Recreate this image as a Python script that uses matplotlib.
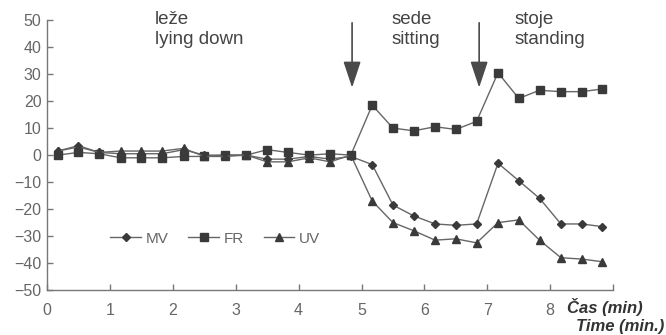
import matplotlib
matplotlib.use("Agg")
import matplotlib.pyplot as plt

plt.rcParams["font.family"] = ["Liberation Sans", "DejaVu Sans"]

# measurement times (min)
times = [0.17, 0.5, 0.83, 1.17, 1.5, 1.83, 2.17, 2.5, 2.83, 3.17, 3.5, 3.83, 4.17, 4.5,
         4.83, 5.17, 5.5, 5.83, 6.17, 6.5, 6.83, 7.17, 7.5, 7.83, 8.17, 8.5, 8.83]

mv = [1.5, 3.5, 1, 0.5, 0.5, 0.5, 2, 0, 0, 0, -1.5, -1.5, -0.5, -1.5,
      -0.5, -3.5, -18.5, -22.5, -25.5, -26, -25.5, -3, -9.5, -16, -25.5, -25.5, -26.5]
fr = [0, 1, 0.5, -1, -1, -1, -0.5, -0.5, 0, 0, 2, 1, 0, 0.5,
      0, 18.5, 10, 9, 10.5, 9.5, 12.5, 30.5, 21, 24, 23.5, 23.5, 24.5]
uv = [1.5, 3, 1, 1.5, 1.5, 1.5, 2.5, -0.5, -0.5, 0, -2.5, -2.5, -1, -2.5,
      0, -17, -25, -28, -31.5, -31, -32.5, -25, -24, -31.5, -38, -38.5, -39.5]

# position changes
arrow_x = [4.85, 6.87]
phase_x = [1.71, 5.47, 7.43]
phase_sk = ["leže", "sede", "stoje"]
phase_en = ["lying down", "sitting", "standing"]

line_c = "#666666"
mark_c = "#3a3a3a"
text_c = "#666666"

fig = plt.figure(figsize=(6.66, 3.35), dpi=100)
ax = fig.add_axes([0.0706, 0.134, 0.850, 0.806])

ax.plot(times, mv, color=line_c, lw=1.0, marker="D", ms=4.4, mfc=mark_c, mec=mark_c, label="MV")
ax.plot(times, fr, color=line_c, lw=1.0, marker="s", ms=5.4, mfc=mark_c, mec=mark_c, label="FR")
ax.plot(times, uv, color=line_c, lw=1.0, marker="^", ms=6.0, mfc=mark_c, mec=mark_c, label="UV")

ax.set_xlim(0, 9)
ax.set_ylim(-50, 50)
ax.set_xticks(range(10))
ax.set_xticklabels([str(i) for i in range(9)] + [""])
ax.set_yticks(range(-50, 51, 10))
ax.tick_params(axis="both", direction="in", length=4, width=1, color="#777777",
               labelcolor=text_c, labelsize=11.5)
ax.tick_params(axis="x", pad=9)
ax.tick_params(axis="y", pad=4)
for s in ["top", "right"]:
    ax.spines[s].set_visible(False)
for s in ["left", "bottom"]:
    ax.spines[s].set_color("#777777")
    ax.spines[s].set_linewidth(1.0)

for xa in arrow_x:
    ax.annotate("", xy=(xa, 25), xytext=(xa, 49),
                arrowprops=dict(arrowstyle="-|>,head_length=0.9,head_width=0.3",
                                mutation_scale=18, color="#4a4a4a", lw=1.2,
                                shrinkA=0, shrinkB=0), annotation_clip=False)

for xp, sk, en in zip(phase_x, phase_sk, phase_en):
    ax.text(xp, 48.7, sk, fontsize=13.5, color="#444444", va="baseline", ha="left")
    ax.text(xp, 41.2, en, fontsize=13.5, color="#444444", va="baseline", ha="left")

fig.text(0.851, 0.085, "Čas (min)", fontsize=12, fontweight="bold", fontstyle="italic",
         color="#333333", ha="left", va="center")
fig.text(0.998, 0.025, "Time (min.)", fontsize=12, fontweight="bold", fontstyle="italic",
         color="#333333", ha="right", va="center")

leg = ax.legend(loc="center", bbox_to_anchor=(0.297, 0.19), ncol=3, frameon=False,
                fontsize=11, handlelength=2.0, handletextpad=0.3, columnspacing=1.3)
for t in leg.get_texts():
    t.set_color(text_c)

fig.savefig("out.png", dpi=100)
